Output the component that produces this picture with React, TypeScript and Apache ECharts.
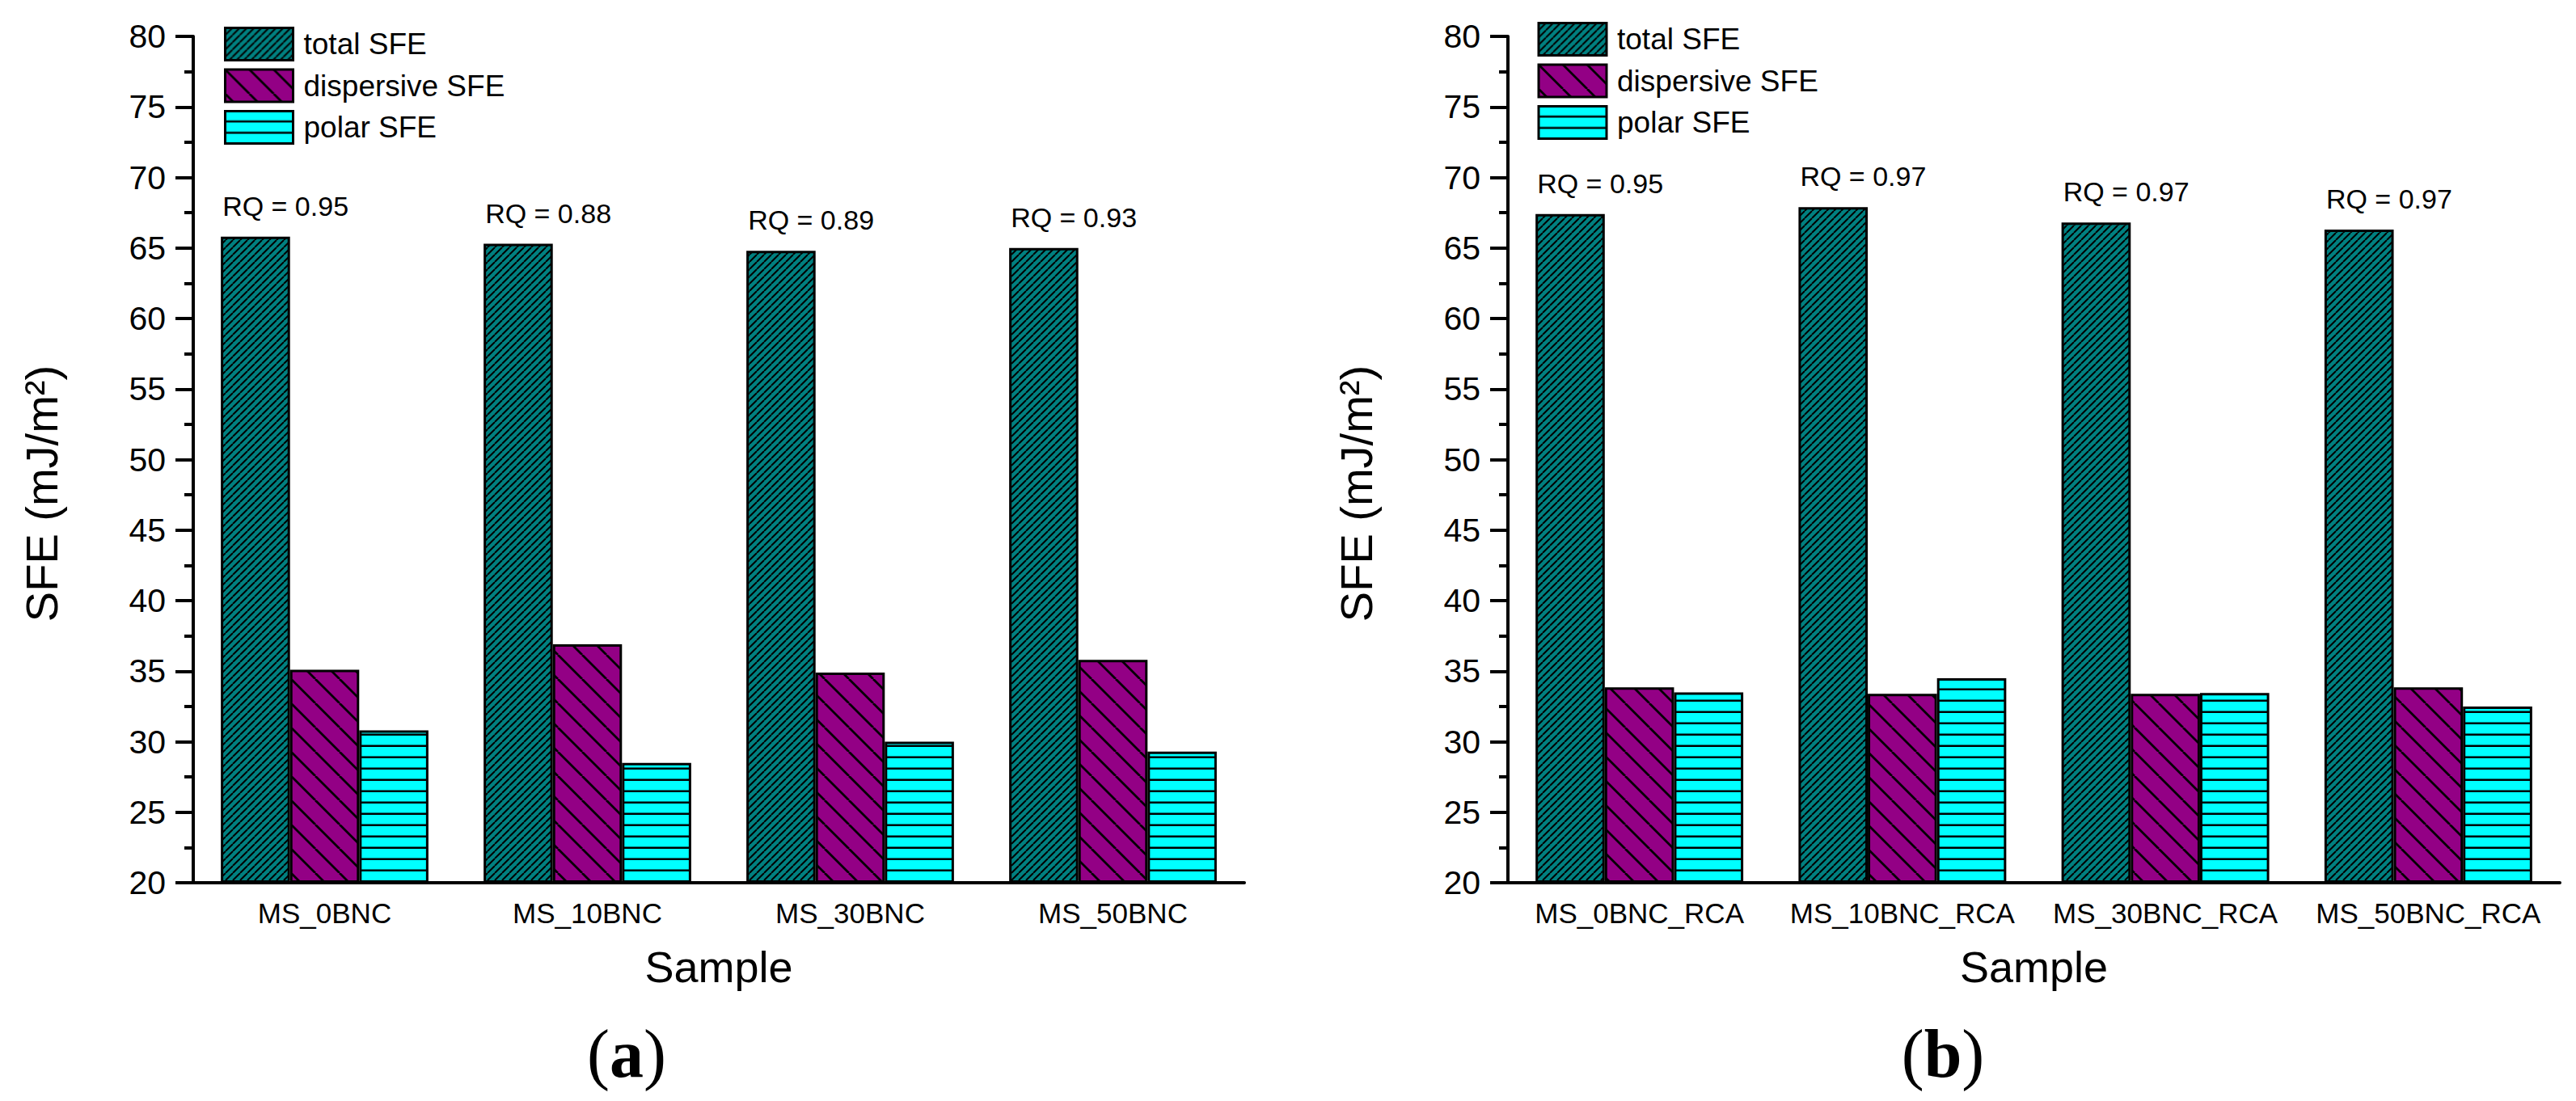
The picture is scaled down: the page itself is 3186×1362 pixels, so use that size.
import React, { useEffect, useRef } from 'react';
import * as echarts from 'echarts';

const seriesNames = ['total SFE', 'dispersive SFE', 'polar SFE'];
const categoriesA = ['MS_0BNC', 'MS_10BNC', 'MS_30BNC', 'MS_50BNC'];
const categoriesB = ['MS_0BNC_RCA', 'MS_10BNC_RCA', 'MS_30BNC_RCA', 'MS_50BNC_RCA'];
const totalA = [65.8, 65.3, 64.8, 65.0];
const dispersiveA = [35.1, 36.9, 34.9, 35.8];
const polarA = [30.8, 28.5, 30.0, 29.3];
const rqA = ['0.95', '0.88', '0.89', '0.93'];
const totalB = [67.4, 67.9, 66.8, 66.3];
const dispersiveB = [33.85, 33.4, 33.4, 33.85];
const polarB = [33.5, 34.5, 33.45, 32.5];
const rqB = ['0.95', '0.97', '0.97', '0.97'];
const yMin = 20;
const yMax = 80;
const yStep = 5;
const panelLetters = ['a', 'b'];

const SANS = 'Liberation Sans, Arial, Helvetica, sans-serif';
const SERIF = 'Liberation Serif, Times New Roman, serif';

function makeHatch(bg: string, kind: 'f' | 'b' | 'h', period: number, lw: number) {
  const w = kind === 'h' ? 8 : period;
  const c = document.createElement('canvas');
  c.width = w;
  c.height = period;
  const ctx = c.getContext('2d') as CanvasRenderingContext2D;
  ctx.fillStyle = bg;
  ctx.fillRect(0, 0, w, period);
  ctx.fillStyle = '#000';
  ctx.strokeStyle = '#000';
  ctx.lineWidth = lw;
  if (kind === 'h') {
    ctx.fillRect(0, period - lw, w, lw);
  } else {
    ctx.beginPath();
    for (let k = -1; k <= 1; k++) {
      if (kind === 'f') {
        ctx.moveTo(k * period, period);
        ctx.lineTo(k * period + period, 0);
      } else {
        ctx.moveTo(k * period, 0);
        ctx.lineTo(k * period + period, period);
      }
    }
    ctx.stroke();
  }
  return { image: c, repeat: 'repeat', imageWidth: w, imageHeight: period };
}

export default function App() {
  const ref = useRef<HTMLDivElement>(null);

  useEffect(() => {
    document.body.style.margin = '0';
    if (!ref.current) return;
    const chart = echarts.init(ref.current, null, { renderer: 'svg' });

    const teal = makeHatch('#008080', 'f', 9, 2);
    const purple = makeHatch('#930085', 'b', 30, 2.8);
    const cyan = makeHatch('#00FFFF', 'h', 14, 2.5);
    const fills = [teal, purple, cyan];

    const grids = [
      { left: 239, top: 45, width: 1300, height: 1047 },
      { left: 1865, top: 45, width: 1301, height: 1047 },
    ];

    const mkX = (idx: number, cats: string[]) => ({
      type: 'category',
      gridIndex: idx,
      data: cats,
      axisLine: { show: true, lineStyle: { color: '#000', width: 4 } },
      axisTick: { show: false },
      axisLabel: { fontSize: 35, color: '#000', margin: 20, fontFamily: SANS, interval: 0, hideOverlap: false },
      name: 'Sample',
      nameLocation: 'middle',
      nameGap: 77,
      nameTextStyle: { fontSize: 54, color: '#000', fontFamily: SANS },
    });

    const mkY = (idx: number) => ({
      type: 'value',
      gridIndex: idx,
      min: yMin,
      max: yMax,
      interval: yStep,
      startValue: yMin,
      axisLine: { show: true, lineStyle: { color: '#000', width: 4 } },
      axisTick: { show: true, length: 22, lineStyle: { color: '#000', width: 4 } },
      minorTick: { show: true, splitNumber: 2, length: 11, lineStyle: { color: '#000', width: 4 } },
      splitLine: { show: false },
      minorSplitLine: { show: false },
      axisLabel: { fontSize: 41, color: '#000', margin: 34, fontFamily: SANS },
      name: 'SFE (mJ/m²)',
      nameLocation: 'middle',
      nameRotate: 90,
      nameGap: 160,
      nameTextStyle: { fontSize: 56, color: '#000', fontFamily: SANS, padding: [0, 84, 0, 0] },
    });

    const datasets = [
      [totalA, dispersiveA, polarA, rqA],
      [totalB, dispersiveB, polarB, rqB],
    ] as const;

    const series: any[] = [];
    datasets.forEach((d, gi) => {
      const rq = d[3] as readonly string[];
      [d[0], d[1], d[2]].forEach((vals, si) => {
        const s: any = {
          name: seriesNames[si],
          type: 'bar',
          xAxisIndex: gi,
          yAxisIndex: gi,
          data: vals as number[],
          barGap: '0%',
          barCategoryGap: '21%',
          itemStyle: { color: fills[si], borderColor: '#000', borderWidth: 3 },
          emphasis: { disabled: true },
        };
        if (si === 0) {
          s.label = {
            show: true,
            position: [2, -38],
            align: 'left',
            verticalAlign: 'middle',
            formatter: (p: any) => 'RQ = ' + rq[p.dataIndex],
            fontSize: 34,
            color: '#000',
            fontFamily: SANS,
          };
        }
        series.push(s);
      });
    });

    const mkLegend = (left: number, top: number) => ({
      left,
      top,
      orient: 'vertical',
      padding: 0,
      itemWidth: 84,
      itemHeight: 40,
      itemGap: 8.5,
      icon: 'rect',
      selectedMode: false,
      data: seriesNames,
      itemStyle: { borderColor: '#000', borderWidth: 3 },
      textStyle: { fontSize: 37, color: '#000', fontFamily: SANS, padding: [0, 0, 0, 8] },
    });

    const panelLabel = (letter: string, x: number) => ({
      type: 'text',
      x,
      y: 1303,
      style: {
        text: '{p|(}{b|' + letter + '}{p|)}',
        align: 'center',
        verticalAlign: 'middle',
        rich: {
          p: { fontSize: 84, fontFamily: SERIF, fill: '#000' },
          b: { fontSize: 84, fontFamily: SERIF, fontWeight: 'bold', fill: '#000' },
        },
      },
    });

    chart.setOption({
      animation: false,
      backgroundColor: '#fff',
      grid: grids,
      xAxis: [mkX(0, categoriesA), mkX(1, categoriesB)],
      yAxis: [mkY(0), mkY(1)],
      legend: [mkLegend(277, 33), mkLegend(1901.5, 27)],
      series,
      graphic: [panelLabel(panelLetters[0], 775), panelLabel(panelLetters[1], 2403)],
    });

    return () => chart.dispose();
  }, []);

  return <div ref={ref} style={{ width: 3186, height: 1362 }} />;
}
